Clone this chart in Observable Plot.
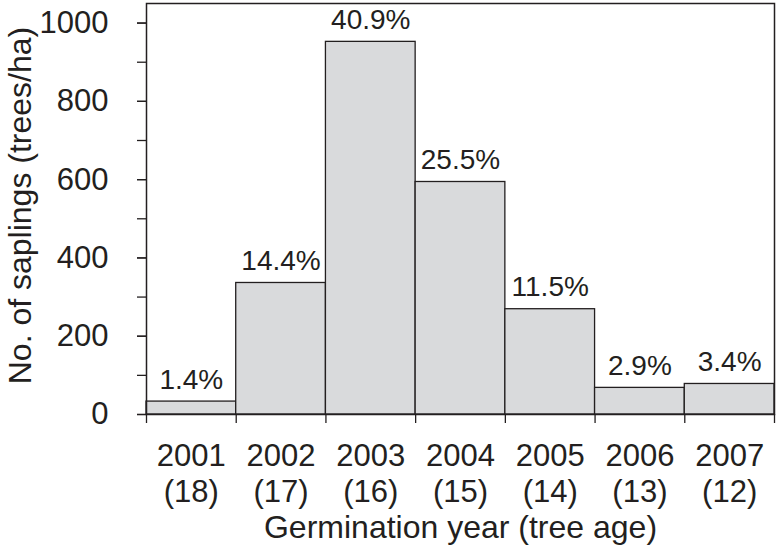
<!DOCTYPE html>
<html><head><meta charset="utf-8">
<script src="https://cdn.jsdelivr.net/npm/d3@7"></script>
<script src="https://cdn.jsdelivr.net/npm/@observablehq/plot@0.6"></script>
<style>html,body{margin:0;padding:0;background:#fff} svg{display:block}</style>
</head><body><div id="chart"></div>
<script>
const years = [2001, 2002, 2003, 2004, 2005, 2006, 2007];
const ages = [18, 17, 16, 15, 14, 13, 12];
const saplings = [33, 336, 952, 594, 269, 68, 78];
const percents = [1.4, 14.4, 40.9, 25.5, 11.5, 2.9, 3.4];
const yLabelTicks = [0, 200, 400, 600, 800, 1000];
const yMinorTicks = [0, 100, 200, 300, 400, 500, 600, 700, 800, 900, 1000];
const xTitle = "Germination year (tree age)";
const yTitle = "No. of saplings (trees/ha)";

const data = years.map((y, i) => ({year: y, age: ages[i], value: saplings[i], pct: percents[i]}));
const edges = [...years.map(y => y - 0.5), years[years.length - 1] + 0.5];
const ink = "#231f20";
const font = "'Liberation Sans', Arial, Helvetica, sans-serif";

const chart = Plot.plot({
  width: 779, height: 552,
  marginLeft: 146, marginRight: 5, marginTop: 3, marginBottom: 138,
  style: {fontFamily: font, fontSize: "31px", color: ink, background: "#fff"},
  x: {type: "linear", domain: [edges[0], edges[edges.length - 1]]},
  y: {domain: [0, 1050]},
  marks: [
    Plot.rectY(data, {x1: d => d.year - 0.5, x2: d => d.year + 0.5, y: "value", fill: "#d9dadc", stroke: ink, strokeWidth: 1.3}),
    Plot.frame({stroke: ink, strokeWidth: 1.5}),
    Plot.axisY({ticks: yMinorTicks, tickSize: 9, tickFormat: () => "", label: null, strokeWidth: 1.3}),
    Plot.axisY({ticks: yLabelTicks, tickSize: 9, tickPadding: 29, fontSize: 31, label: null, strokeWidth: 1.3, fill: ink,
      tickFormat: d => String(d)}),
    Plot.axisX({ticks: edges, tickSize: 9, tickFormat: () => "", label: null, strokeWidth: 1.3}),
    Plot.axisX({ticks: years, tickSize: 0, tickPadding: 25.5, fontSize: 31, lineHeight: 1.17, fill: ink,
      tickFormat: y => `${y}\n(${ages[years.indexOf(y)]})`, label: null}),
    Plot.text(data, {x: "year", y: "value", text: d => d.pct.toFixed(1) + "%", dy: -22, fontSize: 28, fill: ink}),
    Plot.text([xTitle], {frameAnchor: "bottom", lineAnchor: "top", dy: 101, fontSize: 32, fill: ink}),
    Plot.text([yTitle], {frameAnchor: "left", textAnchor: "middle", rotate: -90, dx: -126, dy: -3.5, fontSize: 32, fill: ink})
  ]
});
document.getElementById("chart").appendChild(chart);
</script>
</body></html>
